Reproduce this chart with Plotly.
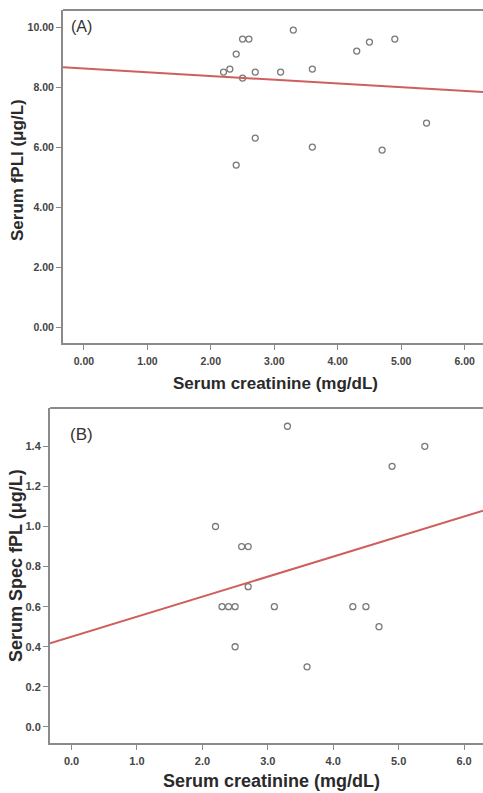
import plotly.graph_objects as go

# Panel A data
a_x = [2.2, 2.3, 2.4, 2.5, 2.6, 2.5, 2.7, 2.7, 2.4, 3.1, 3.3, 3.6, 3.6, 4.3, 4.5, 4.9, 4.7, 5.4]
a_y = [8.5, 8.6, 9.1, 9.6, 9.6, 8.3, 8.5, 6.3, 5.4, 8.5, 9.9, 8.6, 6.0, 9.2, 9.5, 9.6, 5.9, 6.8]
a_fit = [8.62, -0.125]  # intercept, slope

# Panel B data
b_x = [2.2, 2.6, 2.7, 2.7, 2.3, 2.4, 2.5, 2.5, 3.1, 3.3, 3.6, 4.3, 4.5, 4.7, 4.9, 5.4]
b_y = [1.0, 0.9, 0.9, 0.7, 0.6, 0.6, 0.6, 0.4, 0.6, 1.5, 0.3, 0.6, 0.6, 0.5, 1.3, 1.4]
b_fit = [0.45, 0.100]

x_range = [-0.33, 6.29]
a_yticks = [0, 2, 4, 6, 8, 10]
a_xticks = [0, 1, 2, 3, 4, 5, 6]
b_yticks = [0.0, 0.2, 0.4, 0.6, 0.8, 1.0, 1.2, 1.4]
b_xticks = [0, 1, 2, 3, 4, 5, 6]

x_title = "Serum creatinine (mg/dL)"
a_ytitle = "Serum fPLI (μg/L)"
b_ytitle = "Serum Spec fPL (μg/L)"

W, H = 483, 793
GRAY = "#8a8a8a"
PT = "#7a7a7a"
RED = "#cf5f5c"
FONT = "Liberation Sans, Arial, sans-serif"
TXT = "#2a2a2a"

fig = go.Figure()

marker = dict(symbol="circle-open", size=6, color=PT, line=dict(width=1.3, color=PT))

fig.add_trace(go.Scatter(x=a_x, y=a_y, mode="markers", marker=marker, xaxis="x", yaxis="y", showlegend=False))
fig.add_trace(go.Scatter(x=x_range, y=[a_fit[0] + a_fit[1] * v for v in x_range], mode="lines",
                         line=dict(color=RED, width=2), xaxis="x", yaxis="y", showlegend=False))
fig.add_trace(go.Scatter(x=b_x, y=b_y, mode="markers", marker=marker, xaxis="x2", yaxis="y2", showlegend=False))
fig.add_trace(go.Scatter(x=x_range, y=[b_fit[0] + b_fit[1] * v for v in x_range], mode="lines",
                         line=dict(color=RED, width=2), xaxis="x2", yaxis="y2", showlegend=False))

def axis_common(size):
    return dict(showgrid=False, zeroline=False, showline=True, linecolor=GRAY, linewidth=2,
                ticks="outside", ticklen=5, tickwidth=1, tickcolor=GRAY,
                tickfont=dict(family=FONT, size=size, color="#444444", weight="bold"))

a_dom_x = [63 / W, 1.0]
a_dom_y = [1 - 343 / H, 1 - 10 / H]
b_dom_x = [50 / W, 1.0]
b_dom_y = [1 - 743 / H, 1 - 408 / H]

fig.update_layout(
    width=W, height=H, margin=dict(l=0, r=0, t=0, b=0),
    paper_bgcolor="white", plot_bgcolor="white",
    xaxis=dict(domain=a_dom_x, range=x_range, tickvals=a_xticks, ticklabelstandoff=2,
               ticktext=[f"{v:.2f}" for v in a_xticks], anchor="y", **axis_common(10.5)),
    yaxis=dict(domain=a_dom_y, range=[-0.53, 10.57], tickvals=a_yticks,
               ticktext=[f"{v:.2f}" for v in a_yticks], anchor="x", **axis_common(10.5)),
    xaxis2=dict(domain=b_dom_x, range=x_range, tickvals=b_xticks, ticklabelstandoff=2,
                ticktext=[f"{v:.1f}" for v in b_xticks], anchor="y2", **axis_common(11)),
    yaxis2=dict(domain=b_dom_y, range=[-0.08, 1.591], tickvals=b_yticks,
                ticktext=[f"{v:.1f}" for v in b_yticks], anchor="x2", **axis_common(11)),
    shapes=[
        dict(type="line", xref="x domain", yref="y domain", x0=0, x1=1, y0=1, y1=1,
             line=dict(color=GRAY, width=2)),
        dict(type="line", xref="x2 domain", yref="y2 domain", x0=0, x1=1, y0=1, y1=1,
             line=dict(color=GRAY, width=2)),
    ],
    annotations=[
        dict(text="(A)", xref="paper", yref="paper", x=69 / W, y=1 - 27 / H, xanchor="left", yanchor="middle",
             showarrow=False, font=dict(family=FONT, size=16, color="#333")),
        dict(text="(B)", xref="paper", yref="paper", x=68 / W, y=1 - 434 / H, xanchor="left", yanchor="middle",
             showarrow=False, font=dict(family=FONT, size=17, color="#333")),
        dict(text=f"<b>{x_title}</b>", xref="paper", yref="paper", x=275 / W, y=1 - 383 / H,
             xanchor="center", yanchor="middle", showarrow=False, font=dict(family=FONT, size=17, color=TXT)),
        dict(text=f"<b>{x_title}</b>", xref="paper", yref="paper", x=271 / W, y=1 - 781 / H,
             xanchor="center", yanchor="middle", showarrow=False, font=dict(family=FONT, size=18, color=TXT)),
        dict(text=f"<b>{a_ytitle}</b>", xref="paper", yref="paper", x=17 / W, y=1 - 170 / H, textangle=-90,
             xanchor="center", yanchor="middle", showarrow=False, font=dict(family=FONT, size=17, color=TXT)),
        dict(text=f"<b>{b_ytitle}</b>", xref="paper", yref="paper", x=16 / W, y=1 - 566 / H, textangle=-90,
             xanchor="center", yanchor="middle", showarrow=False, font=dict(family=FONT, size=18, color=TXT)),
    ],
)

fig.write_html("out.html")
